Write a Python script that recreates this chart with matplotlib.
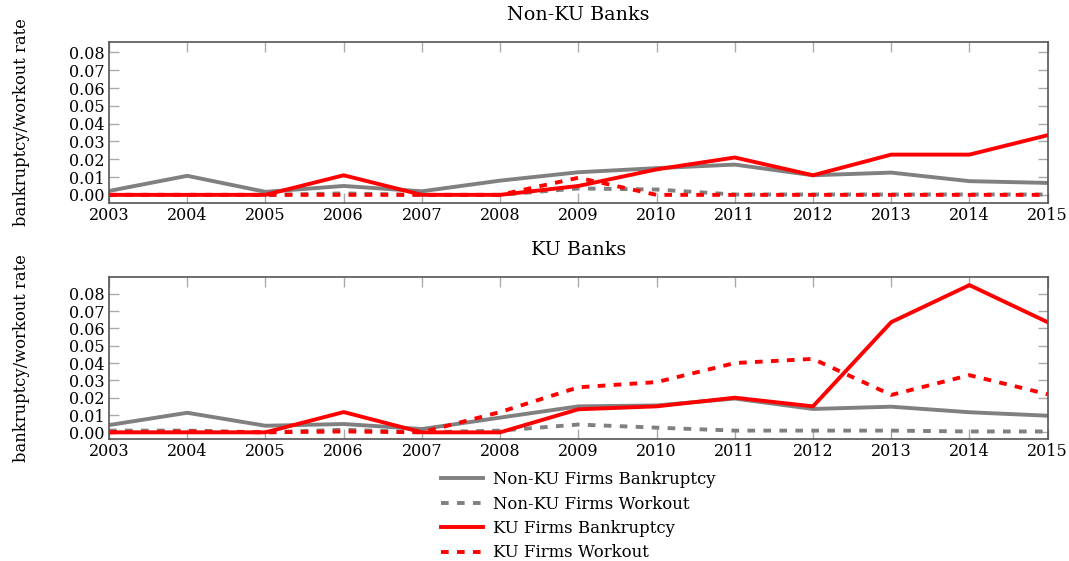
import numpy as np
import matplotlib.pyplot as plt
plt.rcParams.update({'font.size': 11.5, 'font.family': 'DejaVu Serif', 'lines.scale_dashes': False})

years = np.arange(2003, 2016)

# Non-KU Banks
nonku_nonkufirm_bk = [0.0022, 0.0107, 0.0017, 0.0050, 0.0020, 0.0080, 0.0127, 0.0150, 0.0170, 0.0110, 0.0125, 0.0077, 0.0067]
nonku_nonkufirm_wo = [0.0000, 0.0000, 0.0000, 0.0008, 0.0000, 0.0000, 0.0036, 0.0030, 0.0002, 0.0002, 0.0002, 0.0002, 0.0002]
nonku_kufirm_bk = [0.0000, 0.0000, 0.0000, 0.0110, 0.0000, 0.0000, 0.0050, 0.0143, 0.0210, 0.0110, 0.0226, 0.0226, 0.0335]
nonku_kufirm_wo = [0.0000, 0.0000, 0.0000, 0.0000, 0.0000, 0.0000, 0.0096, 0.0000, 0.0000, 0.0000, 0.0000, 0.0000, 0.0000]

# KU Banks
ku_nonkufirm_bk = [0.0042, 0.0113, 0.0038, 0.0048, 0.0019, 0.0085, 0.0150, 0.0155, 0.0195, 0.0135, 0.0148, 0.0116, 0.0096]
ku_nonkufirm_wo = [0.0010, 0.0010, 0.0000, 0.0015, 0.0000, 0.0010, 0.0045, 0.0027, 0.0010, 0.0010, 0.0010, 0.0005, 0.0005]
ku_kufirm_bk = [0.0000, 0.0000, 0.0000, 0.0117, 0.0000, 0.0000, 0.0133, 0.0150, 0.0200, 0.0150, 0.0636, 0.0850, 0.0636]
ku_kufirm_wo = [0.0000, 0.0005, 0.0000, 0.0005, 0.0000, 0.0117, 0.0260, 0.0290, 0.0400, 0.0424, 0.0216, 0.0330, 0.0220]

labels = ["Non-KU Firms Bankruptcy", "Non-KU Firms Workout", "KU Firms Bankruptcy", "KU Firms Workout"]
titles = ["Non-KU Banks", "KU Banks"]

fig = plt.figure(figsize=(10.69, 5.61), dpi=100)
ax1 = fig.add_axes([0.102, 0.639, 0.878, 0.286])
ax2 = fig.add_axes([0.102, 0.217, 0.878, 0.289])

gray = '#808080'
red = '#ff0000'
lw = 2.8
dash = (0, (5.5, 6))

panels = [
    (ax1, [nonku_nonkufirm_bk, nonku_nonkufirm_wo, nonku_kufirm_bk, nonku_kufirm_wo], (-0.0043, 0.0858)),
    (ax2, [ku_nonkufirm_bk, ku_nonkufirm_wo, ku_kufirm_bk, ku_kufirm_wo], (-0.0040, 0.0896)),
]

for i, (ax, series, ylim) in enumerate(panels):
    ax.plot(years, series[0], color=gray, lw=lw, label=labels[0])
    ax.plot(years, series[1], color=gray, lw=lw, ls=dash, label=labels[1])
    ax.plot(years, series[2], color=red, lw=lw, label=labels[2])
    ax.plot(years, series[3], color=red, lw=lw, ls=dash, label=labels[3])
    ax.set_xlim(2003, 2015)
    ax.set_ylim(*ylim)
    ax.set_xticks(years)
    ax.set_yticks(np.arange(0, 0.081, 0.01))
    ax.set_yticklabels(["%.2f" % v for v in np.arange(0, 0.081, 0.01)])
    ax.tick_params(direction='in', length=7, width=1, color='#aaaaaa',
                   top=True, right=True, pad=3)
    for s in ax.spines.values():
        s.set_color('#555555')
        s.set_linewidth(1.2)
    ax.set_title(titles[i], pad=16, fontsize=13.8)
    ax.set_ylabel("bankruptcy/workout rate", labelpad=28, fontsize=11.8)

handles, labs = ax2.get_legend_handles_labels()
fig.legend(handles, labs, loc='upper center', bbox_to_anchor=(0.541, 0.172),
           frameon=False, ncol=1, handlelength=2.5, labelspacing=0.45,
           handletextpad=0.6, borderaxespad=0, fontsize=11.9)

plt.savefig("out.png", dpi=100)
